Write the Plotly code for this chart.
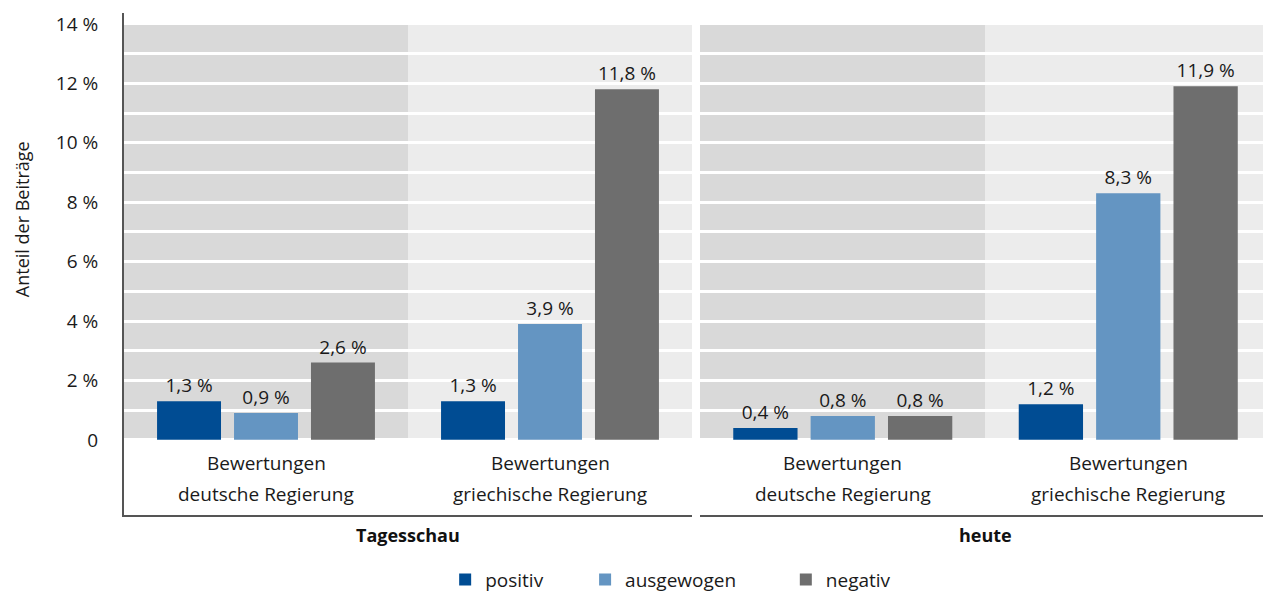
import plotly.graph_objects as go
from plotly.subplots import make_subplots

# Daten
sender = ["Tagesschau", "heute"]
kategorien = ["deutsche Regierung", "griechische Regierung"]
kat_zeile1 = ["Bewertungen", "Bewertungen"]
serien = ["positiv", "ausgewogen", "negativ"]
farben = ["#004c93", "#6495c2", "#6e6e6e"]

tagesschau_positiv = [1.3, 1.3]
tagesschau_ausgewogen = [0.9, 3.9]
tagesschau_negativ = [2.6, 11.8]
heute_positiv = [0.4, 1.2]
heute_ausgewogen = [0.8, 8.3]
heute_negativ = [0.8, 11.9]

y_tickvals = [0, 2, 4, 6, 8, 10, 12, 14]
y_ticktext = ["0", "2 %", "4 %", "6 %", "8 %", "10 %", "12 %", "14 %"]

FONT = "Open Sans"
FS = 19
# die Seite hat 8px Rand, daher etwas kleiner
W, H = 1263, 584


def fmt(vals):
    return [f"{v:.1f} %".replace(".", ",") for v in vals]


fig = make_subplots(rows=1, cols=2, shared_yaxes=True, horizontal_spacing=0.007)

daten = [
    [tagesschau_positiv, tagesschau_ausgewogen, tagesschau_negativ],
    [heute_positiv, heute_ausgewogen, heute_negativ],
]
legenden = ["legend", "legend2", "legend3"]

for col, reihen in enumerate(daten, start=1):
    for i, vals in enumerate(reihen):
        fig.add_trace(
            go.Bar(
                x=kategorien,
                y=vals,
                name=serien[i],
                marker=dict(color=farben[i], line=dict(width=0)),
                text=fmt(vals),
                textposition="outside",
                textfont=dict(family=FONT, size=FS, color="#1a1a1a"),
                cliponaxis=False,
                showlegend=(col == 1),
                legend=legenden[i],
                hoverinfo="skip",
            ),
            row=1, col=col,
        )

# Hintergrundflächen je Kategorie
for xr in ["x", "x2"]:
    fig.add_shape(type="rect", xref=xr, yref="y", x0=-0.5, x1=0.5, y0=0, y1=14,
                  fillcolor="#d9d9d9", line_width=0, layer="below")
    fig.add_shape(type="rect", xref=xr, yref="y", x0=0.5, x1=1.5, y0=0, y1=14,
                  fillcolor="#ececec", line_width=0, layer="below")

# Kategorie-Beschriftungen
for xr in ["x", "x2"]:
    for k, kat in enumerate(kategorien):
        fig.add_annotation(x=kat, xref=xr, y=-0.78, yref="y", text=kat_zeile1[k],
                           showarrow=False, yanchor="middle",
                           font=dict(family=FONT, size=FS, color="#1a1a1a"))
        fig.add_annotation(x=kat, xref=xr, y=-1.83, yref="y", text=kat,
                           showarrow=False, yanchor="middle",
                           font=dict(family=FONT, size=FS, color="#1a1a1a"))

# Sender-Beschriftungen
for xr, name in zip(["x domain", "x2 domain"], sender):
    fig.add_annotation(x=0.5, xref=xr, y=-0.04, yref="paper", text=f"<b>{name}</b>",
                       showarrow=False, yanchor="middle",
                       font=dict(family=FONT, size=FS - 1, color="#111111"))

# y-Achsentitel
fig.add_annotation(x=-0.0895, xref="paper", y=0.59, yref="paper", text="Anteil der Beiträge",
                   textangle=-90, showarrow=False, xanchor="center", yanchor="middle",
                   font=dict(family=FONT, size=FS - 1, color="#1a1a1a"))

yr = [-2.53, 14.37]
fig.update_yaxes(range=yr, tickvals=y_tickvals, ticktext=y_ticktext,
                 showgrid=True, gridcolor="white", gridwidth=3,
                 minor=dict(dtick=1, showgrid=True, gridcolor="white", gridwidth=3),
                 zeroline=False, fixedrange=True, automargin=False)
fig.update_yaxes(showline=True, linecolor="#555555", linewidth=2, ticks="",
                 ticklabelstandoff=20,
                 tickfont=dict(family=FONT, size=FS, color="#1a1a1a"), row=1, col=1)
fig.update_yaxes(showline=False, row=1, col=2)
fig.update_xaxes(range=[-0.5, 1.5], showticklabels=False, showline=True,
                 linecolor="#555555", linewidth=2, showgrid=False, zeroline=False,
                 ticks="", fixedrange=True, automargin=False)
fig.update_layout(
    xaxis=dict(domain=[0, 0.4952]),
    xaxis2=dict(domain=[0.5022, 1]),
)

leg_common = dict(orientation="h", yanchor="middle", y=-0.129, xanchor="left",
                  bgcolor="rgba(0,0,0,0)",
                  font=dict(family=FONT, size=FS, color="#1a1a1a"))
fig.update_layout(
    legend=dict(x=0.280, **leg_common),
    legend2=dict(x=0.402, **leg_common),
    legend3=dict(x=0.577, **leg_common),
)

fig.update_layout(
    width=W, height=H,
    margin=dict(l=116, r=0, t=5, b=77, autoexpand=False),
    barmode="group",
    bargap=0.187,
    bargroupgap=0.169,
    plot_bgcolor="white",
    paper_bgcolor="white",
    font=dict(family=FONT, size=FS, color="#1a1a1a"),
)

fig.write_html("out.html")
